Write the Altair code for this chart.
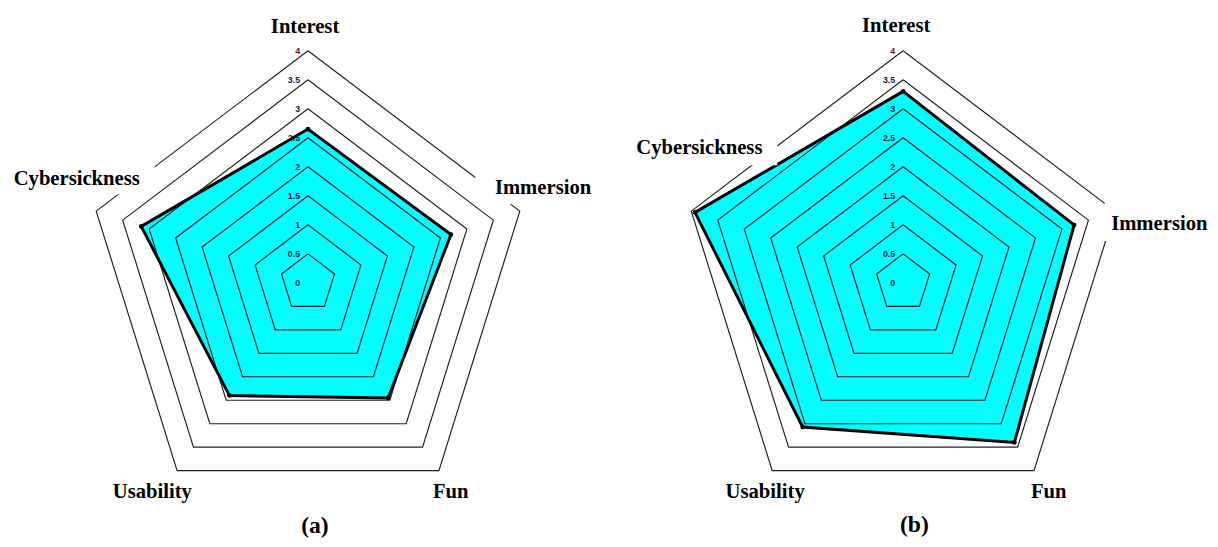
import math
import altair as alt
import pandas as pd

# ---------------- data ----------------
categories = ["Interest", "Immersion", "Fun", "Usability", "Cybersickness"]
values_a = [2.65, 2.70, 2.45, 2.40, 3.15]
values_b = [3.30, 3.23, 3.40, 3.07, 3.93]
grid_levels = [0.5, 1, 1.5, 2, 2.5, 3, 3.5, 4]
tick_values = [0, 0.5, 1, 1.5, 2, 2.5, 3, 3.5, 4]
tick_labels = ["0", "0.5", "1", "1.5", "2", "2.5", "3", "3.5", "4"]
panel_captions = ["(a)", "(b)"]

# ---------------- layout ----------------
ANGLES = [90, 18, -54, -126, 162]       # direction of each category axis
UX, UY = 56.6, 59.0                     # pixels per score unit (x, y)
CX, CY = 305, 275                       # radar centre inside a panel
H = 531
W_A, W_B = 587, 615

# label anchors: pixel offsets from the centre (dx, dy-down), alignment
label_layout_a = {
    "Interest": (-3, -254.5, "center"),
    "Immersion": (190, -90.5, "left"),
    "Fun": (127, 219, "left"),
    "Usability": (-118, 219, "right"),
    "Cybersickness": (-171, -100, "right"),
}
caption_layout_a = (7, 254.5)
label_layout_b = {
    "Interest": (-7, -255, "center"),
    "Immersion": (211.5, -53.5, "left"),
    "Fun": (130, 218.5, "left"),
    "Usability": (-100, 218.5, "right"),
    "Cybersickness": (-143, -131, "right"),
}
caption_layout_b = (11.5, 253.5)
# white label boxes (dx1, dx2, dy1, dy2) that interrupt the outer grid lines
boxes_a = [(170, 299, -115, -80), (-300, -156, -125, -90)]
boxes_b = [(205, 312, -81.5, -42.5), (-280, -128, -155, -119.5)]

FONT = "Liberation Serif"


def pt(r, k):
    a = math.radians(ANGLES[k])
    return r * math.cos(a), r * math.sin(a)


def ring(r):
    rows = []
    for i in range(len(categories) + 1):
        k = i % len(categories)
        x, y = pt(r, k)
        rows.append({"i": i, "x": x, "y": y, "level": r})
    return rows


def make_panel(values, layout, caption, caption_pos, boxes, width):
    xs = alt.Scale(domain=[-CX / UX, (width - CX) / UX], nice=False, zero=False)
    ys = alt.Scale(domain=[-(H - CY) / UY, CY / UY], nice=False, zero=False)
    X = alt.X("x:Q", scale=xs, axis=None)
    Y = alt.Y("y:Q", scale=ys, axis=None)

    grid_rows = []
    for lv in grid_levels:
        grid_rows += ring(lv)
    grid_df = pd.DataFrame(grid_rows)

    data_rows = []
    for i in range(len(categories) + 1):
        k = i % len(categories)
        x, y = pt(values[k], k)
        data_rows.append({"i": i, "x": x, "y": y, "cat": categories[k], "v": values[k]})
    data_df = pd.DataFrame(data_rows)

    tick_df = pd.DataFrame({"x": [0.0] * len(tick_values), "y": tick_values, "t": tick_labels})

    lab_rows = []
    for c in categories:
        dx, dy, al = layout[c]
        lab_rows.append({"x": dx / UX, "y": -dy / UY, "t": c, "al": al})
    lab_df = pd.DataFrame(lab_rows)
    cap_df = pd.DataFrame({"x": [caption_pos[0] / UX], "y": [-caption_pos[1] / UY], "t": [caption]})
    box_df = pd.DataFrame(
        [{"x": b[0] / UX, "x2": b[1] / UX, "y": -b[2] / UY, "y2": -b[3] / UY} for b in boxes]
    )

    fill = alt.Chart(data_df).mark_line(
        fill="#00FFFF", stroke="#00FFFF", strokeOpacity=0, strokeWidth=0
    ).encode(x=X, y=Y, order="i:Q")

    grid = alt.Chart(grid_df).mark_line(color="#222222", strokeWidth=1.2).encode(
        x=X, y=Y, order="i:Q", detail="level:N"
    )

    outline = alt.Chart(data_df).mark_line(color="#000000", strokeWidth=3).encode(
        x=X, y=Y, order="i:Q"
    )
    dots = alt.Chart(data_df[data_df["i"] < len(categories)]).mark_point(
        filled=True, color="#000000", size=22, opacity=1
    ).encode(x=X, y=Y)

    ticks = alt.Chart(tick_df).mark_text(
        align="right", baseline="middle", dx=-8, font="Liberation Sans",
        fontSize=9, fontWeight="bold"
    ).encode(
        x=X, y=Y, text="t:N",
        color=alt.condition("datum.y == 4", alt.value("#6b1a1a"), alt.value("#1a1a40")),
    )

    box = alt.Chart(box_df).mark_rect(color="white").encode(
        x=X, x2="x2:Q", y=Y, y2="y2:Q"
    )

    layers = [fill, grid, outline, dots, ticks, box]
    for al in ["left", "center", "right"]:
        layers.append(
            alt.Chart(lab_df).transform_filter(alt.datum.al == al).mark_text(
                align=al, baseline="alphabetic", font=FONT, fontSize=21,
                fontWeight="bold", color="#000000"
            ).encode(x=X, y=Y, text="t:N")
        )
    layers.append(
        alt.Chart(cap_df).mark_text(
            align="center", baseline="alphabetic", font=FONT, fontSize=24,
            fontWeight="bold", color="#000000"
        ).encode(x=X, y=Y, text="t:N")
    )
    return alt.layer(*layers).properties(width=width, height=H)


panel_a = make_panel(values_a, label_layout_a, panel_captions[0], caption_layout_a, boxes_a, W_A)
panel_b = make_panel(values_b, label_layout_b, panel_captions[1], caption_layout_b, boxes_b, W_B)

chart = (
    alt.hconcat(panel_a, panel_b, spacing=0)
    .properties(padding=0, background="white")
    .configure_view(stroke=None)
)

chart.save("out.html", embed_options={"renderer": "svg", "actions": False})
